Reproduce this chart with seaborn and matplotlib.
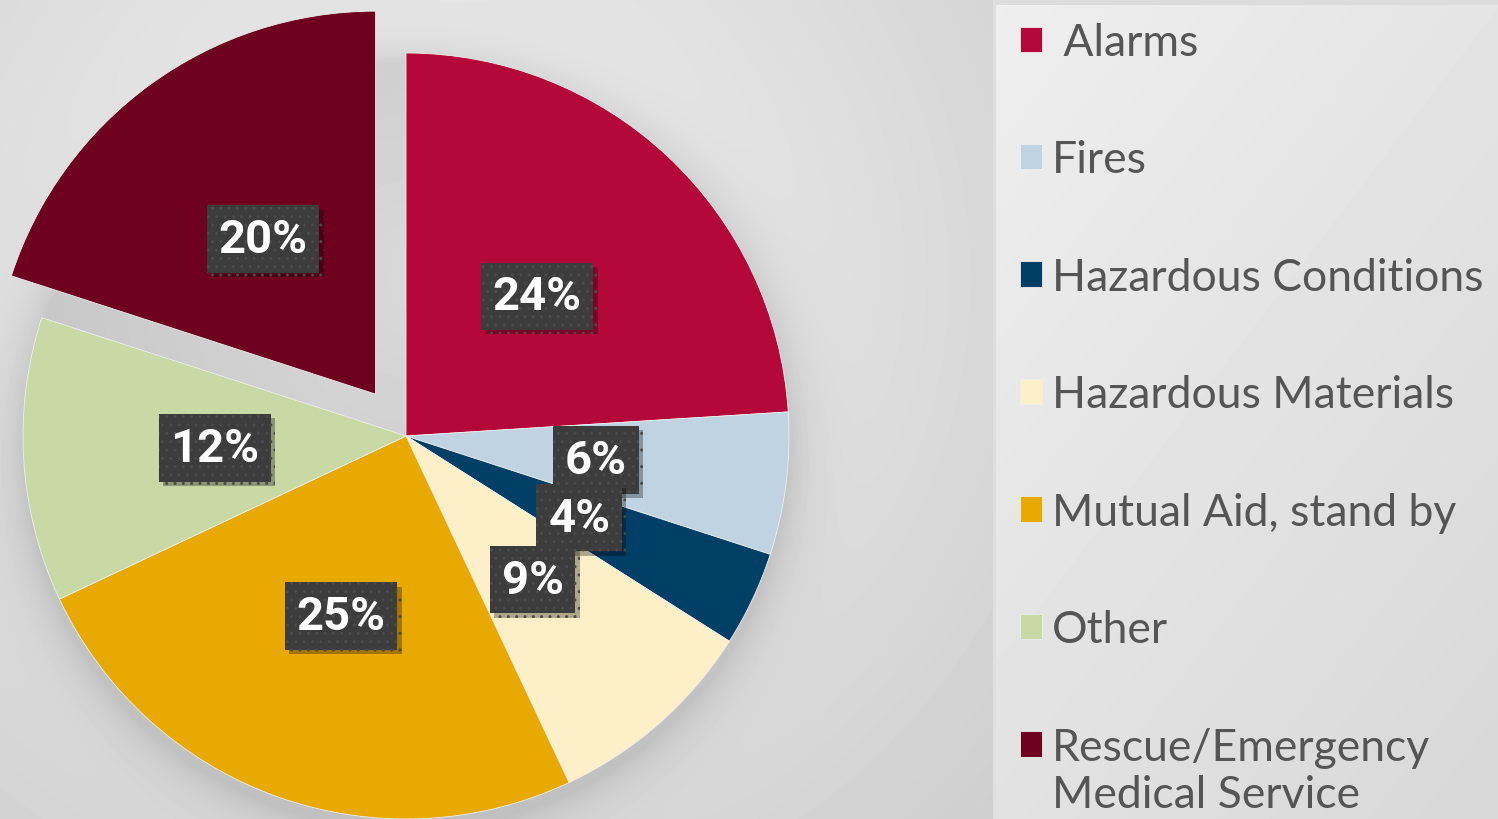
import numpy as np
import matplotlib
matplotlib.use("Agg")
import matplotlib.pyplot as plt
import matplotlib.patheffects as pe
from matplotlib.patches import Rectangle
from matplotlib.legend_handler import HandlerPatch
import seaborn as sns

# data
categories = [" Alarms", "Fires", "Hazardous Conditions", "Hazardous Materials",
              "Mutual Aid, stand by", "Other", "Rescue/Emergency\nMedical Service"]
shares = [24, 6, 4, 9, 25, 12, 20]
colors = ["#B5083A", "#BFD3E3", "#003F66", "#FDF0C8", "#E8A900", "#C8D9A5", "#6E0020"]
explode = [0, 0, 0, 0, 0, 0, 0.135]

sns.set_theme(style="white")
plt.rcParams['font.family'] = ['Lato', 'DejaVu Sans']

W, H = 1498, 820
R = 383
CX, CY = 406, 437  # pie centre, pixels from top-left
fig = plt.figure(figsize=(W / 100, H / 100), dpi=100)

# background: grey radial gradient, soft pie shadow, light legend panel
yy, xx = np.mgrid[0:H, 0:W]
r = np.hypot(xx - 420, yy - 280)
bg = 0.95 - 0.17 * np.clip(r / 950, 0, 1)
d = np.hypot(xx - CX, yy - CY - 10)
bg = bg - 0.10 * np.exp(-np.clip(d - R, 0, None) / 22)
panel = xx >= 996
bg = np.where(panel, 0.935 - 0.05 * yy / H - 0.04 * (xx - 996) / (W - 996), bg)
bg = np.where((xx >= 993) & (xx < 996), 0.87, bg)
bg = np.where(panel & (yy < 6), 0.86, bg)
ax_bg = fig.add_axes([0, 0, 1, 1])
ax_bg.imshow(bg, cmap="gray", vmin=0, vmax=1, aspect="auto", extent=(0, W, 0, H))
ax_bg.set_axis_off()

ax = fig.add_axes([0, 0, 1, 1])
ax.patch.set_alpha(0)
wedges, _, pcts = ax.pie(
    shares, colors=colors, explode=[e * R for e in explode], startangle=90,
    counterclock=False, center=(CX, H - CY), radius=R, autopct="%d%%",
    pctdistance=0.5, wedgeprops=dict(linewidth=0.6, edgecolor="#eeeeee"),
)
ax.set_xlim(0, W)
ax.set_ylim(0, H)
ax.set_axis_off()

for t in pcts:
    t.set(color="white", fontsize=34, fontweight="semibold",
          family=["Liberation Sans Narrow", "Roboto", "DejaVu Sans"])
    t.set_bbox(dict(boxstyle="square,pad=0.25", facecolor="#3c3c3c",
                    edgecolor="#4b4b4b", linewidth=0, hatch=".."))
    t.get_bbox_patch().set_path_effects(
        [pe.SimplePatchShadow(offset=(3, -3), shadow_rgbFace="black", alpha=0.3), pe.Normal()])


def top_square(legend, orig_handle, xdescent, ydescent, width, height, fontsize):
    # square level with the first line of a two-line label
    return Rectangle((-xdescent, -ydescent + 0.62 * fontsize), width, height)


leg = fig.legend(wedges, categories, loc="upper left",
                 bbox_to_anchor=(1020 / W, 1 - 23 / H), frameon=False,
                 fontsize=32, handlelength=0.5, handleheight=0.5,
                 handletextpad=0.22, labelspacing=1.72, borderpad=0, borderaxespad=0,
                 handler_map={wedges[-1]: HandlerPatch(patch_func=top_square)})
for txt in leg.get_texts():
    txt.set_color("#555555")

fig.savefig("out.png", dpi=100)
